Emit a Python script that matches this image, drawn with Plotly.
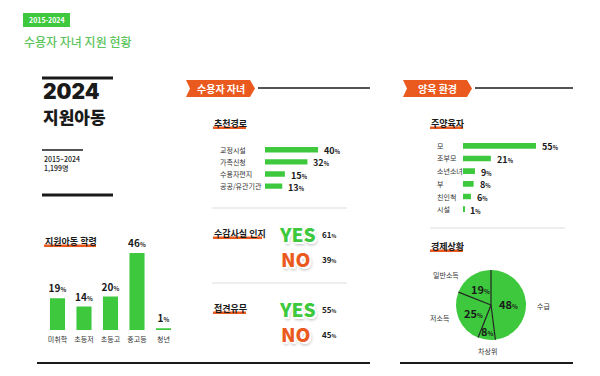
import math
import plotly.graph_objects as go

W, H = 600, 376
def px(x): return x / W
def py(y): return 1 - y / H

GREEN = "#3ec83e"
ORANGE = "#ea5a1e"
TITLE_GREEN = "#5cc45c"
DARK = "#1a1a1a"
FONT = "Noto Sans CJK KR"

# ---------------- data ----------------
badge_text = "2015-2024"
page_title = "수용자 자녀 지원 현황"
headline_year = "2024"
headline_text = "지원아동"
period = "2015~2024"
total_children = "1,199명"

grade_cats = ["미취학", "초등저", "초등고", "중고등", "청년"]
grade_vals = [19, 14, 20, 46, 1]

route_cats = ["교정시설", "가족신청", "수용자편지", "공공/유관기관"]
route_vals = [40, 32, 15, 13]

carer_cats = ["모", "조부모", "소년소녀", "부", "친인척", "시설"]
carer_vals = [55, 21, 9, 8, 6, 1]

econ_cats = ["수급", "차상위", "저소득", "일반소득"]
econ_vals = [48, 8, 25, 19]

yesno_labels = ["YES", "NO"]
aware_vals = [61, 39]
visit_vals = [55, 45]

def pct(v, small=6):
    return f"<b>{v}<span style='font-size:{small}px'>%</span></b>"

PCT_Y = "<b>%{y}<span style='font-size:6px'>%</span></b>"

fig = go.Figure()

# left vertical bars
fig.add_trace(go.Bar(
    x=grade_cats, y=grade_vals, width=0.57, marker_color=GREEN, marker_line_width=0,
    texttemplate=PCT_Y, textposition="outside", cliponaxis=False, constraintext="none",
    textfont=dict(size=10, color=DARK, family=FONT, weight=700),
    xaxis="x", yaxis="y", hoverinfo="skip"))

# middle horizontal bars
fig.add_trace(go.Bar(
    y=route_cats, x=route_vals, orientation="h", width=0.45, marker_color=GREEN,
    marker_line_width=0, xaxis="x2", yaxis="y2", hoverinfo="skip"))

# right horizontal bars
fig.add_trace(go.Bar(
    y=carer_cats, x=carer_vals, orientation="h", width=0.45, marker_color=GREEN,
    marker_line_width=0, xaxis="x3", yaxis="y3", hoverinfo="skip"))

# pie
pie_x0, pie_x1, pie_y0, pie_y1 = 456, 526, 270, 340
fig.add_trace(go.Pie(
    labels=econ_cats, values=econ_vals, sort=False, direction="clockwise", rotation=0,
    marker=dict(colors=[GREEN] * len(econ_vals), line=dict(width=0)),
    textinfo="none",
    domain=dict(x=[px(pie_x0), px(pie_x1)], y=[py(pie_y1), py(pie_y0)]),
    showlegend=False, hoverinfo="skip"))

shapes = []
annotations = []

def line(x0, y0, x1, y1, color=DARK, width=2):
    shapes.append(dict(type="line", xref="paper", yref="paper",
                       x0=px(x0), y0=py(y0), x1=px(x1), y1=py(y1),
                       line=dict(color=color, width=width)))

def text(x, y, s, size=8, color=DARK, weight=400, xanchor="left", shadow=None,
         family=FONT, height=None):
    f = dict(family=family, size=size, color=color, weight=weight)
    if shadow:
        f["shadow"] = shadow
    a = dict(xref="paper", yref="paper", x=px(x), y=py(y), text=s,
             showarrow=False, xanchor=xanchor, yanchor="middle", font=f)
    if height:
        a["height"] = height
    annotations.append(a)

# value labels for horizontal bars (anchored at bar end in data coords)
for cats, vals, xa, ya in [(route_cats, route_vals, "x2", "y2"),
                           (carer_cats, carer_vals, "x3", "y3")]:
    for c, v in zip(cats, vals):
        annotations.append(dict(xref=xa, yref=ya, x=v, y=c, text=pct(v, 5.5), showarrow=False,
                                xanchor="left", yanchor="middle", xshift=4, yshift=-1,
                                font=dict(family=FONT, size=9, color=DARK, weight=700)))

# pie: radial separators + percentage labels (from cumulative data)
cx = (pie_x0 + pie_x1) / 2
cy = (pie_y0 + pie_y1) / 2
r = min(pie_x1 - pie_x0, pie_y1 - pie_y0) / 2
tot = sum(econ_vals)
cum = 0
for v in econ_vals:
    th = 2 * math.pi * cum / tot
    line(cx, cy, cx + r * math.sin(th), cy - r * math.cos(th), color="#222", width=1.2)
    mid = 2 * math.pi * (cum + v / 2) / tot
    rf = 0.75 if v < 10 else (0.55 if v < 40 else 0.5)
    text(cx + rf * r * math.sin(mid), cy - rf * r * math.cos(mid), pct(v, 6),
         size=11, weight=700, xanchor="center")
    cum += v

# header badge + title
shapes.append(dict(type="rect", xref="paper", yref="paper", x0=px(23), x1=px(70),
                   y0=py(27), y1=py(13), fillcolor=GREEN, line=dict(width=0), layer="below"))
text(46.5, 20, badge_text, size=7, color="white", weight=700, xanchor="center")
text(22, 41, page_title, size=12, color=TITLE_GREEN, weight=500)

# left headline block
line(42, 78, 113, 78, width=3)
text(41, 91, headline_year, size=21, weight=900, family="Inter, " + FONT)
text(41, 116.5, headline_text, size=17, weight=900)
line(42, 150, 83, 150, width=1.5)
text(42, 159, period, size=7, weight=500)
text(42, 168, total_children, size=7, weight=500)
line(42, 195, 113, 195, width=3)

# section titles with orange underline
def section(x, y, s, w):
    shapes.append(dict(type="rect", xref="paper", yref="paper", x0=px(x), x1=px(x + w),
                       y0=py(y + 6), y1=py(y + 3.5), fillcolor=ORANGE,
                       line=dict(width=0), layer="below"))
    text(x - 1, y, s, size=9, weight=700)

section(44, 241, "지원아동 학령", 52)
section(213, 123, "추천경로", 33)
section(213, 233, "수감사실 인지", 49)
section(213, 308, "접견유무", 33)
section(430, 123, "주양육자", 33)
section(430, 246, "경제상황", 33)

# orange ribbon tags
def tag(x0, x1, y0, y1, s):
    ym = (y0 + y1) / 2
    pts = [(x0, y0), (x1 - 5, y0), (x1, ym), (x1 - 5, y1), (x0, y1), (x0 + 4, ym)]
    path = "M " + " L ".join(f"{px(a)},{py(b)}" for a, b in pts) + " Z"
    shapes.append(dict(type="path", xref="paper", yref="paper", path=path,
                       fillcolor=ORANGE, line=dict(width=0)))
    text((x0 + x1) / 2, ym, s, size=10, color="white", weight=700, xanchor="center")

tag(186, 255, 80, 97, "수용자 자녀")
line(258, 88, 370, 88, width=1.5)
tag(403, 472, 80, 97, "양육 환경")
line(475, 88, 573, 88, width=1.5)

# gray separators
line(212, 208, 347, 208, color="#dddddd", width=1)
line(212, 283, 347, 283, color="#dddddd", width=1)
line(430, 228, 565, 228, color="#dddddd", width=1)

# category labels for horizontal bars
for c in route_cats:
    annotations.append(dict(xref="paper", yref="y2", x=px(218), y=c, text=c, showarrow=False,
                            xanchor="left", yanchor="middle",
                            font=dict(family=FONT, size=7, color="#333")))
for c in carer_cats:
    annotations.append(dict(xref="paper", yref="y3", x=px(435), y=c, text=c, showarrow=False,
                            xanchor="left", yanchor="middle",
                            font=dict(family=FONT, size=7, color="#333")))

# YES / NO blocks
SH = ("1px 1px 0 #fff, -1px -1px 0 #fff, 1px -1px 0 #fff, -1px 1px 0 #fff, "
      "2px 2px 0 #fff, 2px 3px 3px #bbb")
def yesno(y_yes, y_no, vals):
    text(297, y_yes, yesno_labels[0], size=19, color=GREEN, weight=900, xanchor="center", shadow=SH)
    text(295, y_no, yesno_labels[1], size=19, color=ORANGE, weight=900, xanchor="center", shadow=SH)
    text(320, y_yes + 1, pct(vals[0], 5), size=8)
    text(320, y_no + 1, pct(vals[1], 5), size=8)

yesno(233, 258, aware_vals)
yesno(308, 333, visit_vals)

# pie outside category labels
pie_label_pos = {"수급": (543, 306), "차상위": (487, 351), "저소득": (440, 318), "일반소득": (446, 275)}
for c in econ_cats:
    x, y = pie_label_pos[c]
    text(x, y, c, size=7, color="#333", xanchor="center")

# bottom rules
line(37, 363, 370, 363, width=2)
line(400, 363, 573, 363, width=2)

fig.update_layout(
    width=W, height=H, margin=dict(l=0, r=0, t=0, b=0),
    paper_bgcolor="white", plot_bgcolor="white", showlegend=False,
    font=dict(family=FONT),
    xaxis=dict(domain=[px(44.25), px(176.75)], anchor="y", showgrid=False, zeroline=False,
               showline=False, ticks="", ticklabelstandoff=4,
               tickfont=dict(size=7, color="#333", family=FONT)),
    yaxis=dict(domain=[py(330), py(246.3)], anchor="x", range=[0, 50], visible=False),
    xaxis2=dict(domain=[px(265), px(331.3)], anchor="y2", range=[0, 50], visible=False),
    yaxis2=dict(domain=[py(193.6), py(140.3)], anchor="x2", visible=False,
                categoryorder="array", categoryarray=route_cats, autorange="reversed"),
    xaxis3=dict(domain=[px(463), px(542.6)], anchor="y3", range=[0, 60], visible=False),
    yaxis3=dict(domain=[py(216.7), py(136.3)], anchor="x3", visible=False,
                categoryorder="array", categoryarray=carer_cats, autorange="reversed"),
    shapes=shapes, annotations=annotations,
)

fig.write_html("out.html", config={"displayModeBar": False},
               post_script="document.body.style.margin='0';document.body.style.overflow='hidden';")
